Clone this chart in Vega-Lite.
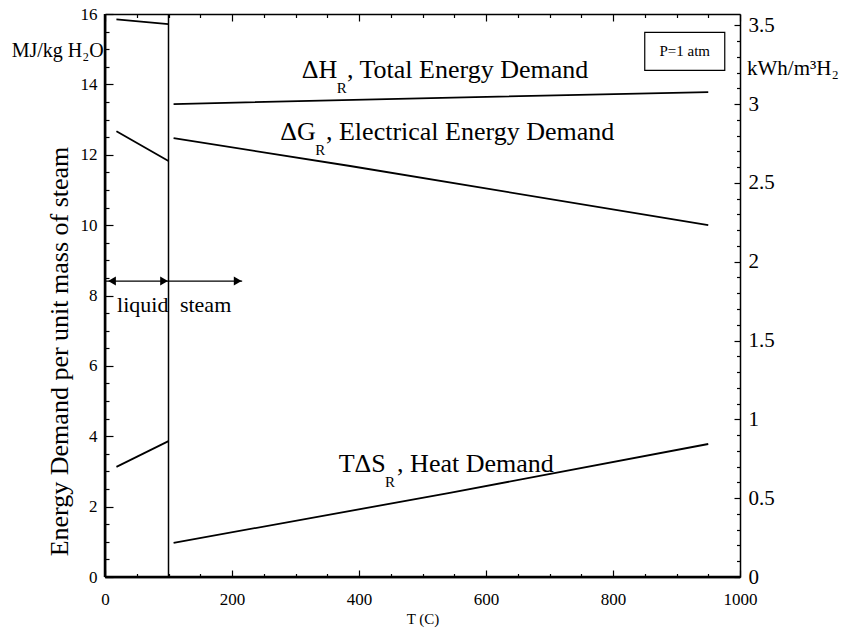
{
  "$schema": "https://vega.github.io/schema/vega-lite/v6.json",
  "width": 635,
  "height": 563,
  "autosize": {"type": "none"},
  "padding": {"left": 105, "top": 14, "right": 102, "bottom": 55},
  "background": "white",
  "config": {
    "font": "Liberation Serif",
    "view": {"stroke": null},
    "axis": {
      "grid": false,
      "domainColor": "black",
      "domainWidth": 1.5,
      "tickColor": "black",
      "tickWidth": 1.2,
      "labelColor": "black",
      "titleColor": "black",
      "labelFont": "Liberation Serif",
      "titleFont": "Liberation Serif",
      "titleFontWeight": "normal",
      "labelFlush": false
    }
  },
  "datasets": {
    "curves": [
      {"seg": "dH-liquid", "T": 18, "E": 15.85},
      {"seg": "dH-liquid", "T": 100, "E": 15.71},
      {"seg": "dG-liquid", "T": 18, "E": 12.67},
      {"seg": "dG-liquid", "T": 100, "E": 11.82},
      {"seg": "TdS-liquid", "T": 18, "E": 3.13},
      {"seg": "TdS-liquid", "T": 100, "E": 3.86},
      {"seg": "dH-steam", "T": 108, "E": 13.44},
      {"seg": "dH-steam", "T": 583, "E": 13.64},
      {"seg": "dH-steam", "T": 950, "E": 13.78},
      {"seg": "dG-steam", "T": 108, "E": 12.47},
      {"seg": "dG-steam", "T": 386, "E": 11.68},
      {"seg": "dG-steam", "T": 950, "E": 10.0},
      {"seg": "TdS-steam", "T": 108, "E": 0.97},
      {"seg": "TdS-steam", "T": 543, "E": 2.39},
      {"seg": "TdS-steam", "T": 950, "E": 3.78}
    ],
    "bigLabels": [
      {"label": "ΔH", "T": 310, "E": 14.18},
      {"label": ", Total Energy Demand", "T": 381, "E": 14.18},
      {"label": "ΔG", "T": 276, "E": 12.41},
      {"label": ", Electrical Energy Demand", "T": 348, "E": 12.41},
      {"label": "TΔS", "T": 368, "E": 2.98},
      {"label": ", Heat Demand", "T": 460, "E": 2.98}
    ],
    "subLabels": [
      {"label": "R", "T": 365, "E": 13.75},
      {"label": "R", "T": 331, "E": 11.98},
      {"label": "R", "T": 441, "E": 2.55}
    ],
    "phaseLabels": [
      {"label": "liquid", "T": 19, "E": 7.53},
      {"label": "steam", "T": 118, "E": 7.53}
    ],
    "arrows": [
      {"T0": 0, "T1": 100, "E": 8.41},
      {"T0": 100, "T1": 216, "E": 8.41}
    ],
    "headsRight": [
      {"T": 93, "E": 8.41},
      {"T": 209, "E": 8.41}
    ],
    "headsLeft": [
      {"T": 11, "E": 8.41}
    ],
    "divider": [{"T": 100, "E0": 0, "E1": 16}],
    "frame": [
      {"T0": 0, "T1": 0, "E0": 0, "E1": 16},
      {"T0": 0, "T1": 1000, "E0": 0, "E1": 0}
    ],
    "pbox": [{"T0": 850, "T1": 976, "E0": 14.40, "E1": 15.48}],
    "ptext": [{"label": "P=1 atm", "T": 913, "E": 14.94}],
    "leftUnit": [{"label": "MJ/kg H₂O", "T": -2, "E": 14.77}],
    "rightUnit": [{"label": "kWh/m³H₂", "T": 1011, "kwh": 3.183}]
  },
  "layer": [
    {
      "data": {"name": "divider"},
      "mark": {"type": "rule", "color": "black", "strokeWidth": 1.5},
      "encoding": {
        "x": {
          "field": "T", "type": "quantitative",
          "scale": {"domain": [0, 1000], "nice": false},
          "axis": {
            "orient": "bottom",
            "zindex": 1,
            "values": [0,50,100,150,200,250,300,350,400,450,500,550,600,650,700,750,800,850,900,950,1000],
            "labelExpr": "datum.value % 200 === 0 ? toString(datum.value) : ''",
            "tickSize": {"condition": {"test": "datum.value % 200 === 0", "value": -7}, "value": -3.5},
            "labelPadding": 21,
            "labelFontSize": 17,
            "title": "T (C)",
            "titleFontSize": 15,
            "titlePadding": 4
          }
        },
        "y": {
          "field": "E0", "type": "quantitative",
          "scale": {"domain": [0, 16], "nice": false},
          "axis": {
            "orient": "left",
            "zindex": 1,
            "values": [0,0.5,1,1.5,2,2.5,3,3.5,4,4.5,5,5.5,6,6.5,7,7.5,8,8.5,9,9.5,10,10.5,11,11.5,12,12.5,13,13.5,14,14.5,15,15.5,16],
            "labelExpr": "datum.value % 2 === 0 ? toString(datum.value) : ''",
            "tickSize": {"condition": {"test": "datum.value % 2 === 0", "value": -8}, "value": -4},
            "labelPadding": 16,
            "labelFontSize": 17,
            "title": "Energy Demand per unit mass of steam",
            "titleFontSize": 26,
            "titleX": -33,
            "titleY": 337,
            "titleBaseline": "bottom"
          }
        },
        "y2": {"field": "E1"}
      }
    },
    {
      "data": {"name": "curves"},
      "mark": {"type": "line", "color": "black", "strokeWidth": 1.8},
      "encoding": {
        "x": {"field": "T", "type": "quantitative", "scale": {"domain": [0, 1000], "nice": false}, "axis": null},
        "y": {"field": "E", "type": "quantitative", "scale": {"domain": [0, 16], "nice": false}, "axis": null},
        "detail": {"field": "seg", "type": "nominal"}
      }
    },
    {
      "data": {"name": "arrows"},
      "mark": {"type": "rule", "color": "black", "strokeWidth": 1.3},
      "encoding": {
        "x": {"field": "T0", "type": "quantitative", "scale": {"domain": [0, 1000], "nice": false}, "axis": null},
        "x2": {"field": "T1"},
        "y": {"field": "E", "type": "quantitative", "scale": {"domain": [0, 16], "nice": false}, "axis": null}
      }
    },
    {
      "data": {"name": "headsRight"},
      "mark": {"type": "point", "shape": "triangle-right", "filled": true, "color": "black", "size": 80, "opacity": 1},
      "encoding": {
        "x": {"field": "T", "type": "quantitative", "scale": {"domain": [0, 1000], "nice": false}, "axis": null},
        "y": {"field": "E", "type": "quantitative", "scale": {"domain": [0, 16], "nice": false}, "axis": null}
      }
    },
    {
      "data": {"name": "headsLeft"},
      "mark": {"type": "point", "shape": "triangle-left", "filled": true, "color": "black", "size": 80, "opacity": 1},
      "encoding": {
        "x": {"field": "T", "type": "quantitative", "scale": {"domain": [0, 1000], "nice": false}, "axis": null},
        "y": {"field": "E", "type": "quantitative", "scale": {"domain": [0, 16], "nice": false}, "axis": null}
      }
    },
    {
      "data": {"name": "pbox"},
      "mark": {"type": "rect", "fill": "white", "stroke": "black", "strokeWidth": 1.2},
      "encoding": {
        "x": {"field": "T0", "type": "quantitative", "scale": {"domain": [0, 1000], "nice": false}, "axis": null},
        "x2": {"field": "T1"},
        "y": {"field": "E0", "type": "quantitative", "scale": {"domain": [0, 16], "nice": false}, "axis": null},
        "y2": {"field": "E1"}
      }
    },
    {
      "data": {"name": "ptext"},
      "mark": {"type": "text", "fontSize": 15, "align": "center", "baseline": "middle", "color": "black"},
      "encoding": {
        "x": {"field": "T", "type": "quantitative", "scale": {"domain": [0, 1000], "nice": false}, "axis": null},
        "y": {"field": "E", "type": "quantitative", "scale": {"domain": [0, 16], "nice": false}, "axis": null},
        "text": {"field": "label"}
      }
    },
    {
      "data": {"name": "bigLabels"},
      "mark": {"type": "text", "fontSize": 26, "align": "left", "baseline": "alphabetic", "color": "black"},
      "encoding": {
        "x": {"field": "T", "type": "quantitative", "scale": {"domain": [0, 1000], "nice": false}, "axis": null},
        "y": {"field": "E", "type": "quantitative", "scale": {"domain": [0, 16], "nice": false}, "axis": null},
        "text": {"field": "label"}
      }
    },
    {
      "data": {"name": "subLabels"},
      "mark": {"type": "text", "fontSize": 15, "align": "left", "baseline": "alphabetic", "color": "black"},
      "encoding": {
        "x": {"field": "T", "type": "quantitative", "scale": {"domain": [0, 1000], "nice": false}, "axis": null},
        "y": {"field": "E", "type": "quantitative", "scale": {"domain": [0, 16], "nice": false}, "axis": null},
        "text": {"field": "label"}
      }
    },
    {
      "data": {"name": "phaseLabels"},
      "mark": {"type": "text", "fontSize": 22, "align": "left", "baseline": "alphabetic", "color": "black"},
      "encoding": {
        "x": {"field": "T", "type": "quantitative", "scale": {"domain": [0, 1000], "nice": false}, "axis": null},
        "y": {"field": "E", "type": "quantitative", "scale": {"domain": [0, 16], "nice": false}, "axis": null},
        "text": {"field": "label"}
      }
    },
    {
      "data": {"name": "leftUnit"},
      "mark": {"type": "text", "fontSize": 20, "align": "right", "baseline": "alphabetic", "color": "black"},
      "encoding": {
        "x": {"field": "T", "type": "quantitative", "scale": {"domain": [0, 1000], "nice": false}, "axis": null},
        "y": {"field": "E", "type": "quantitative", "scale": {"domain": [0, 16], "nice": false}, "axis": null},
        "text": {"field": "label"}
      }
    },
    {
      "data": {"name": "rightUnit"},
      "mark": {"type": "text", "fontSize": 21, "align": "left", "baseline": "alphabetic", "color": "black"},
      "encoding": {
        "x": {
          "field": "T", "type": "quantitative",
          "scale": {"domain": [0, 1000], "nice": false},
          "axis": {
            "orient": "top",
            "values": [0,50,100,150,200,250,300,350,400,450,500,550,600,650,700,750,800,850,900,950,1000],
            "labels": false,
            "tickSize": {"condition": {"test": "datum.value % 200 === 0", "value": -7}, "value": -3.5},
            "title": null
          }
        },
        "y": {
          "field": "kwh", "type": "quantitative",
          "scale": {"domain": [0, 3.5714], "nice": false},
          "axis": {
            "orient": "right",
            "values": [0,0.1,0.2,0.3,0.4,0.5,0.6,0.7,0.8,0.9,1,1.1,1.2,1.3,1.4,1.5,1.6,1.7,1.8,1.9,2,2.1,2.2,2.3,2.4,2.5,2.6,2.7,2.8,2.9,3,3.1,3.2,3.3,3.4,3.5],
            "labelExpr": "abs(datum.value*2 - round(datum.value*2)) < 0.000001 ? toString(round(datum.value*10)/10) : ''",
            "tickSize": {"condition": {"test": "abs(datum.value*2 - round(datum.value*2)) < 0.000001", "value": -6}, "value": -3.5},
            "labelPadding": 14,
            "labelFontSize": 21,
            "title": null
          }
        },
        "text": {"field": "label"}
      }
    },
    {
      "data": {"name": "frame"},
      "mark": {"type": "rule", "color": "#000000", "strokeWidth": 2.5},
      "encoding": {
        "x": {"field": "T0", "type": "quantitative", "scale": {"domain": [0, 1000], "nice": false}, "axis": null},
        "x2": {"field": "T1"},
        "y": {"field": "E0", "type": "quantitative", "scale": {"domain": [0, 16], "nice": false}, "axis": null},
        "y2": {"field": "E1"}
      }
    }
  ],
  "resolve": {"scale": {"y": "independent"}, "axis": {"x": "independent"}}
}
